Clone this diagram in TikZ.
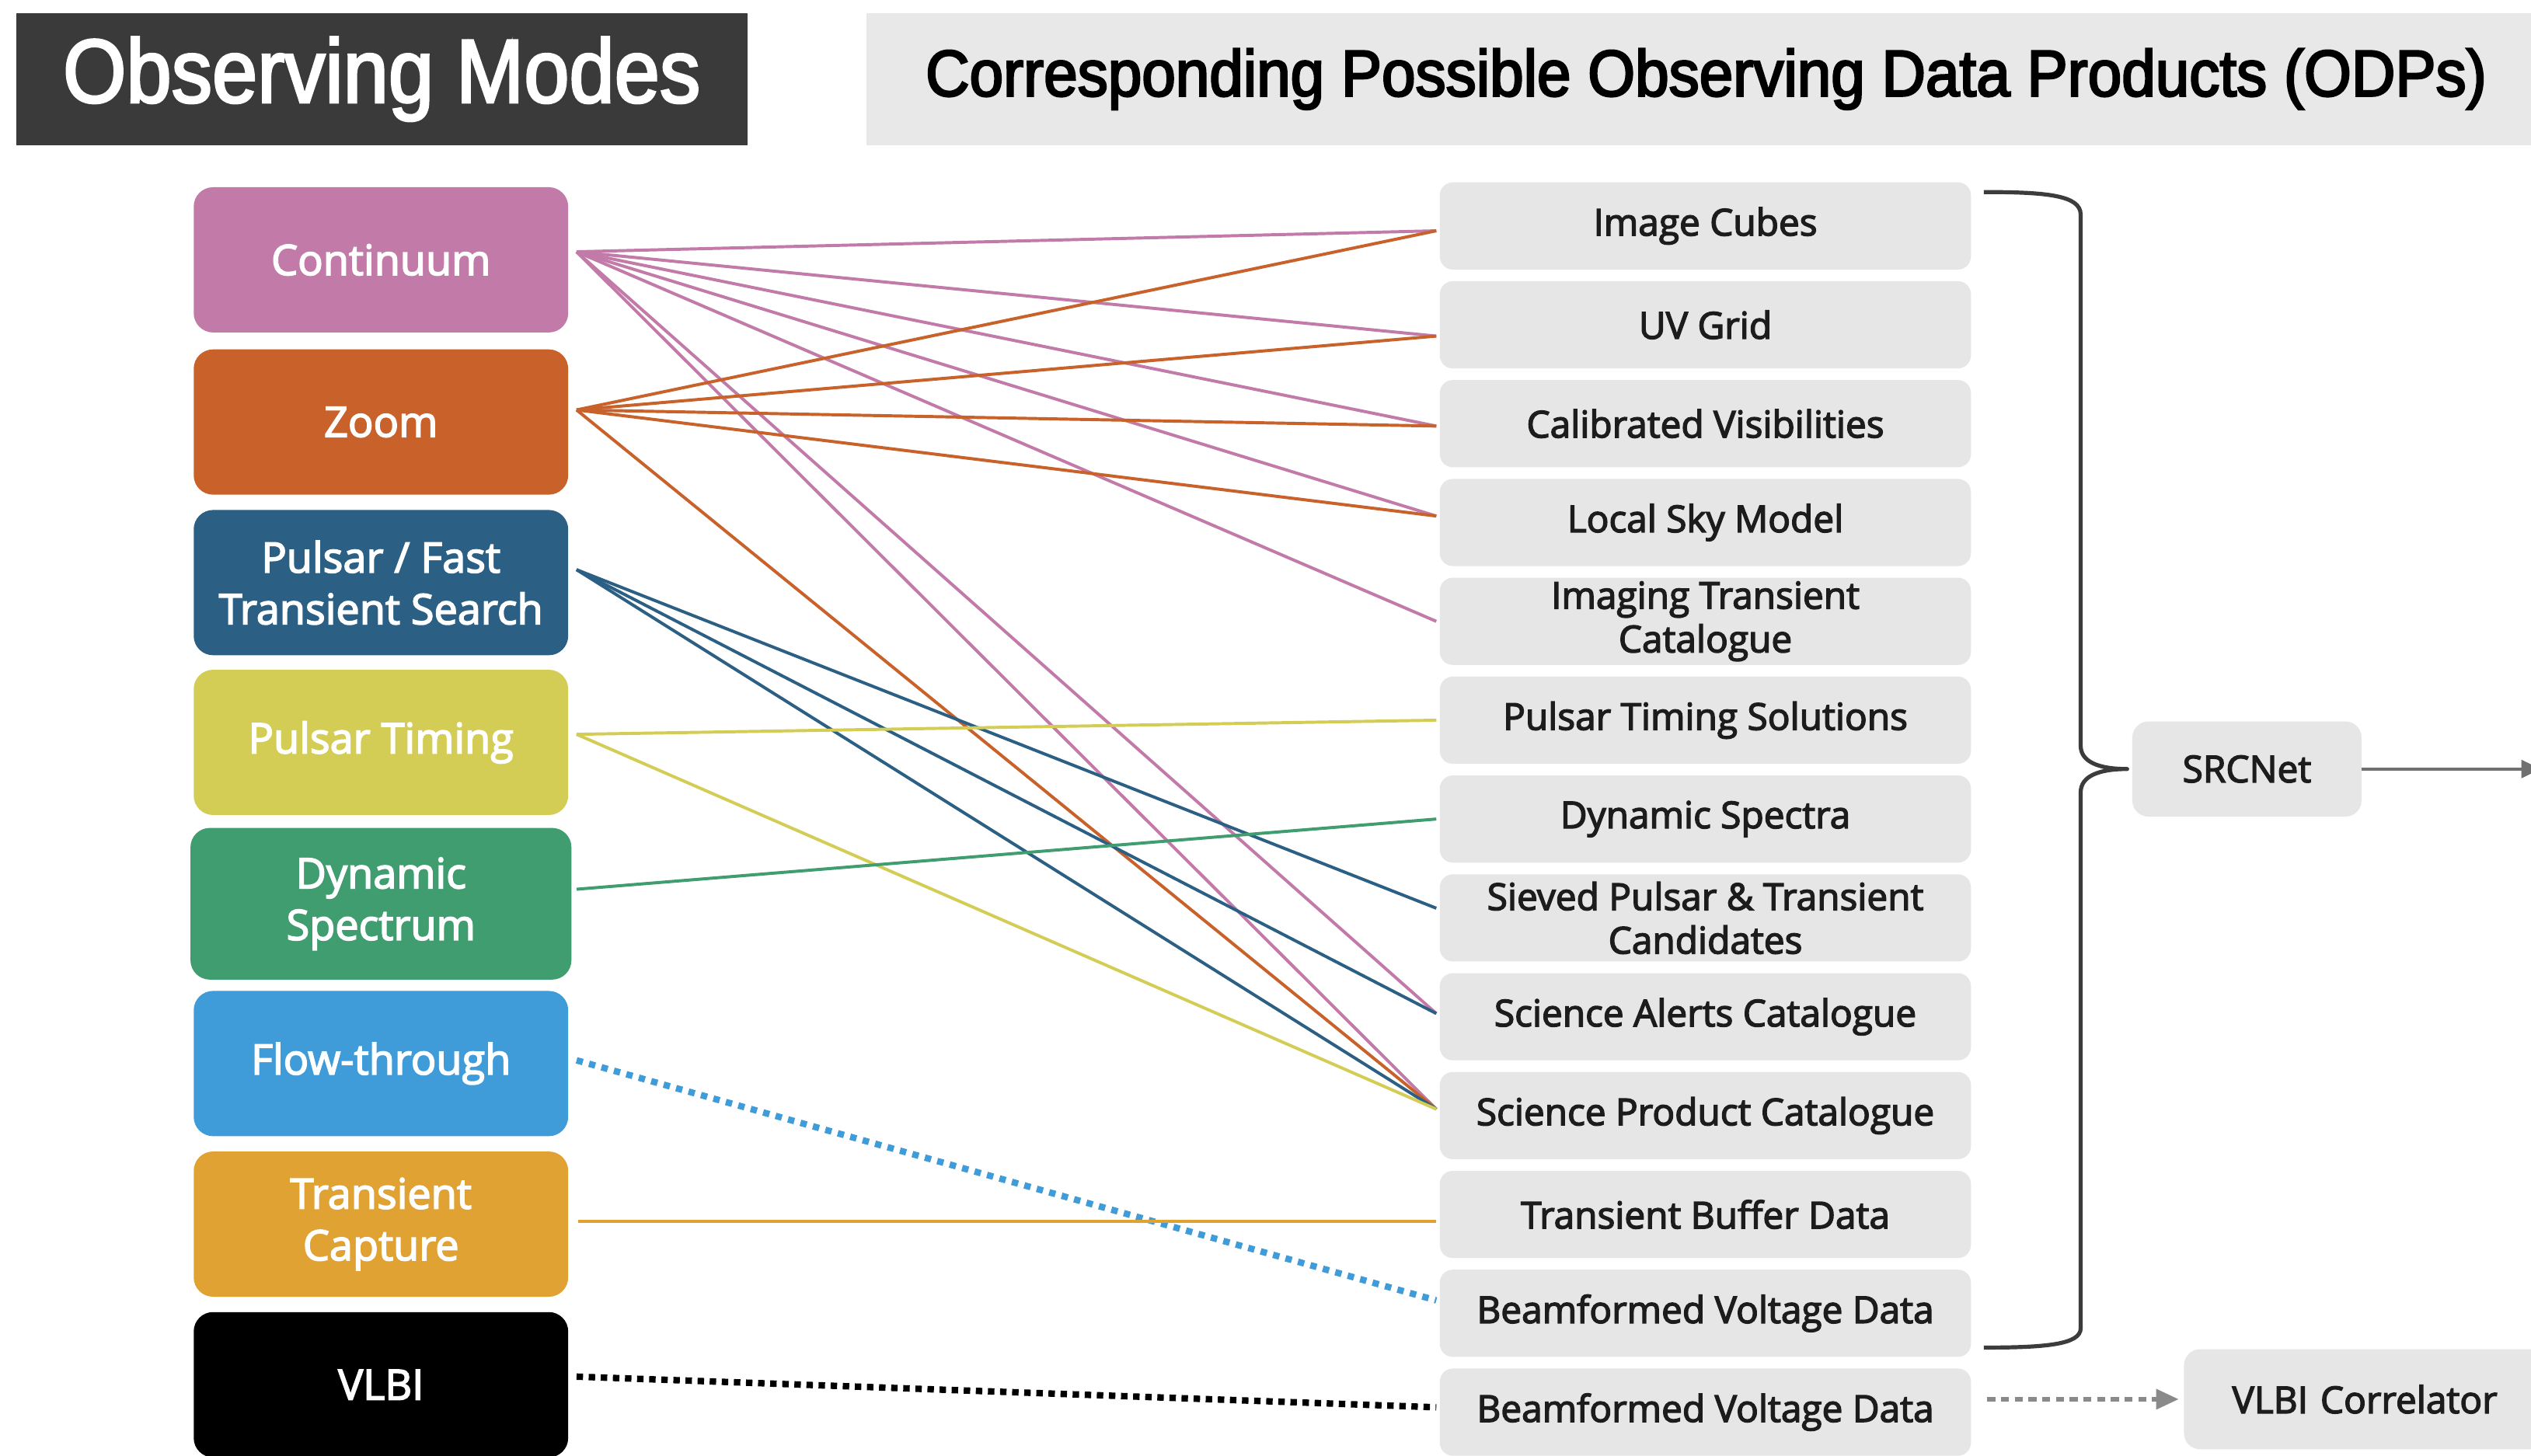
\documentclass[tikz,border=0pt]{standalone}
\usepackage{fontspec}
\setmainfont[FakeBold=3]{Open Sans}
\newfontfamily\hdrfontA[FakeStretch=0.9,FakeBold=2.5]{Liberation Sans}
\newfontfamily\hdrfontB[FakeStretch=0.93,FakeBold=3]{Liberation Sans}
\usetikzlibrary{arrows.meta,calc}
\definecolor{cCont}{HTML}{C27BA8}
\definecolor{cZoom}{HTML}{C9622A}
\definecolor{cPuls}{HTML}{2B5F84}
\definecolor{cTime}{HTML}{D4CD55}
\definecolor{cDyn}{HTML}{3F9D6F}
\definecolor{cFlow}{HTML}{409CD8}
\definecolor{cTran}{HTML}{E0A232}
\definecolor{cGreyBox}{HTML}{E6E6E6}
\definecolor{cHdrDark}{HTML}{3A3A3A}
\definecolor{cHdrLight}{HTML}{E8E8E8}
\definecolor{cBrace}{HTML}{3C3C3C}
\definecolor{cArrow}{HTML}{707070}
\definecolor{cDotArrow}{HTML}{8A8A8A}
\definecolor{cText}{HTML}{1C1C1C}
\tikzset{
  mode/.style={rounded corners=12pt, minimum width=232pt, minimum height=90pt,
    text=white, font=\fontsize{26}{32}\selectfont, align=center, inner sep=0pt},
  odp/.style={rounded corners=8pt, fill=cGreyBox, minimum width=329pt, minimum height=54pt,
    font=\fontsize{23}{27}\selectfont, align=center, text=cText, inner sep=0pt},
  link/.style={line width=1.9pt},
  dotlink/.style={line width=4pt, dash pattern=on 4pt off 4pt},
}
\begin{document}
\begin{tikzpicture}[x=1pt,y=-1pt]
\clip (0,0) rectangle (1568,902);
\fill[white] (0,0) rectangle (1568,902);

% headers
\node[fill=cHdrDark, minimum width=453pt, minimum height=82pt, inner sep=0pt,
  text=white, font=\hdrfontA\fontsize{56}{60}\selectfont] (hL) at (236.5,49) {Observing Modes};
\node[fill=cHdrLight, minimum width=1040pt, minimum height=82pt, inner sep=0pt,
  text=black, font=\hdrfontB\fontsize{40.5}{44}\selectfont] (hR) at (1057,49) {Corresponding Possible Observing Data Products (ODPs)};

% observing modes
\node[mode, fill=cCont] (cont) at (236,161) {Continuum};
\node[mode, fill=cZoom] (zoom) at (236,261.5) {Zoom};
\node[mode, fill=cPuls] (psr) at (236,361) {Pulsar / Fast\\Transient Search};
\node[mode, fill=cTime] (tim) at (236,460) {Pulsar Timing};
\node[mode, fill=cDyn, minimum width=236pt, minimum height=94pt] (dyn) at (236,560) {Dynamic\\Spectrum};
\node[mode, fill=cFlow] (flow) at (236,659) {Flow-through};
\node[mode, fill=cTran] (tc) at (236,758.5) {Transient\\Capture};
\node[mode, fill=black] (vlbi) at (236,858) {VLBI};

% data products
\node[odp] (ic)   at (1056.5,140)    {Image Cubes};
\node[odp] (uv)   at (1056.5,201.25) {UV Grid};
\node[odp] (cv)   at (1056.5,262.5)  {Calibrated Visibilities};
\node[odp] (lsm)  at (1056.5,323.75) {Local Sky Model};
\node[odp] (itc)  at (1056.5,385)    {Imaging Transient\\Catalogue};
\node[odp] (pts)  at (1056.5,446.25) {Pulsar Timing Solutions};
\node[odp] (ds)   at (1056.5,507.5)  {Dynamic Spectra};
\node[odp] (sv)   at (1056.5,568.75) {Sieved Pulsar \& Transient\\Candidates};
\node[odp] (sac)  at (1056.5,630)    {Science Alerts Catalogue};
\node[odp] (spc)  at (1056.5,691.25) {Science Product Catalogue};
\node[odp] (tbd)  at (1056.5,752.5)  {Transient Buffer Data};
\node[odp] (bvd1) at (1056.5,813.75) {Beamformed Voltage Data};
\node[odp] (bvd2) at (1056.5,875)    {Beamformed Voltage Data};

% downstream
\node[odp, minimum width=142pt, minimum height=59pt, rounded corners=10pt] (src) at (1392,476.5) {SRCNet};
\node[odp, minimum width=224pt, minimum height=62pt, rounded corners=10pt, text width=224pt] (corr) at (1465,867) {VLBI Correlator};

% source points
\coordinate (cont-o) at ([xshift=5pt,yshift=5pt]cont.east);
\coordinate (zoom-o) at ([xshift=5pt,yshift=7.5pt]zoom.east);
\coordinate (psr-o)  at ([xshift=5pt,yshift=8pt]psr.east);
\coordinate (tim-o)  at ([xshift=5pt,yshift=5pt]tim.east);
\coordinate (dyn-o)  at ([xshift=3pt,yshift=9pt]dyn.east);
\coordinate (flow-o) at ([xshift=5pt,yshift=2pt]flow.east);
\coordinate (tc-o)   at ([xshift=6pt,yshift=1.5pt]tc.east);
\coordinate (vlbi-o) at ([xshift=5pt,yshift=5pt]vlbi.east);

% target points
\coordinate (ic-i)   at ([xshift=-2pt,yshift=-3pt]ic.west);
\coordinate (uv-i)   at ([xshift=-2pt,yshift=-7pt]uv.west);
\coordinate (cv-i)   at ([xshift=-2pt,yshift=-1.5pt]cv.west);
\coordinate (lsm-i)  at ([xshift=-2pt,yshift=4pt]lsm.west);
\coordinate (itc-i)  at ([xshift=-2pt]itc.west);
\coordinate (pts-i)  at ([xshift=-2pt]pts.west);
\coordinate (ds-i)   at ([xshift=-2pt]ds.west);
\coordinate (sv-i)   at ([xshift=-2pt,yshift=6pt]sv.west);
\coordinate (sac-i)  at ([xshift=-2pt,yshift=2pt]sac.west);
\coordinate (spc-i)  at ([xshift=-2pt,yshift=4pt]spc.west);
\coordinate (tbd-i)  at ([xshift=-2pt]tbd.west |- tc-o);
\coordinate (bvd1-i) at ([xshift=-2pt,yshift=8pt]bvd1.west);
\coordinate (bvd2-i) at ([xshift=-2pt,yshift=3pt]bvd2.west);

% links
\foreach \t in {ic,uv,cv,lsm,itc,sac,spc} \draw[link,cCont] (cont-o) -- (\t-i);
\foreach \t in {ic,uv,cv,lsm,spc} \draw[link,cZoom] (zoom-o) -- (\t-i);
\foreach \t in {sv,sac,spc} \draw[link,cPuls] (psr-o) -- (\t-i);
\foreach \t in {pts,spc} \draw[link,cTime] (tim-o) -- (\t-i);
\draw[link,cDyn] (dyn-o) -- (ds-i);
\draw[dotlink,cFlow] (flow-o) -- (bvd1-i);
\draw[link,cTran] (tc-o) -- (tbd-i);
\draw[dotlink,black,dash pattern=on 4pt off 3.5pt] (vlbi-o) -- (bvd2-i);

% brace to SRCNet
\coordinate (btop) at (1229,119);
\coordinate (bbot) at (1229,835);
\coordinate (btip) at ([xshift=-3pt]src.west);
\draw[cBrace, line width=2.5pt, line join=round]
  (btop) .. controls (1268,119) and (1289,121) .. (1289,133)
  -- (1289,462) .. controls (1289,472) and (1300,476.5) .. (btip)
  .. controls (1300,476.5) and (1289,481) .. (1289,491)
  -- (1289,823) .. controls (1289,833) and (1268,835) .. (bbot);

% SRCNet outgoing arrow
\coordinate (srcout) at (1574,476.5);
\draw[cArrow, line width=2pt, -{Triangle[length=12pt,width=11pt]}] (src.east) -- (srcout);

% VLBI correlator arrow
\draw[cDotArrow, line width=3pt, dash pattern=on 5pt off 3.5pt, -{Triangle[length=14pt,width=12pt]}]
  ([xshift=10pt,yshift=8pt]bvd2.east) -- ([xshift=-3pt]corr.west);
\end{tikzpicture}
\end{document}
